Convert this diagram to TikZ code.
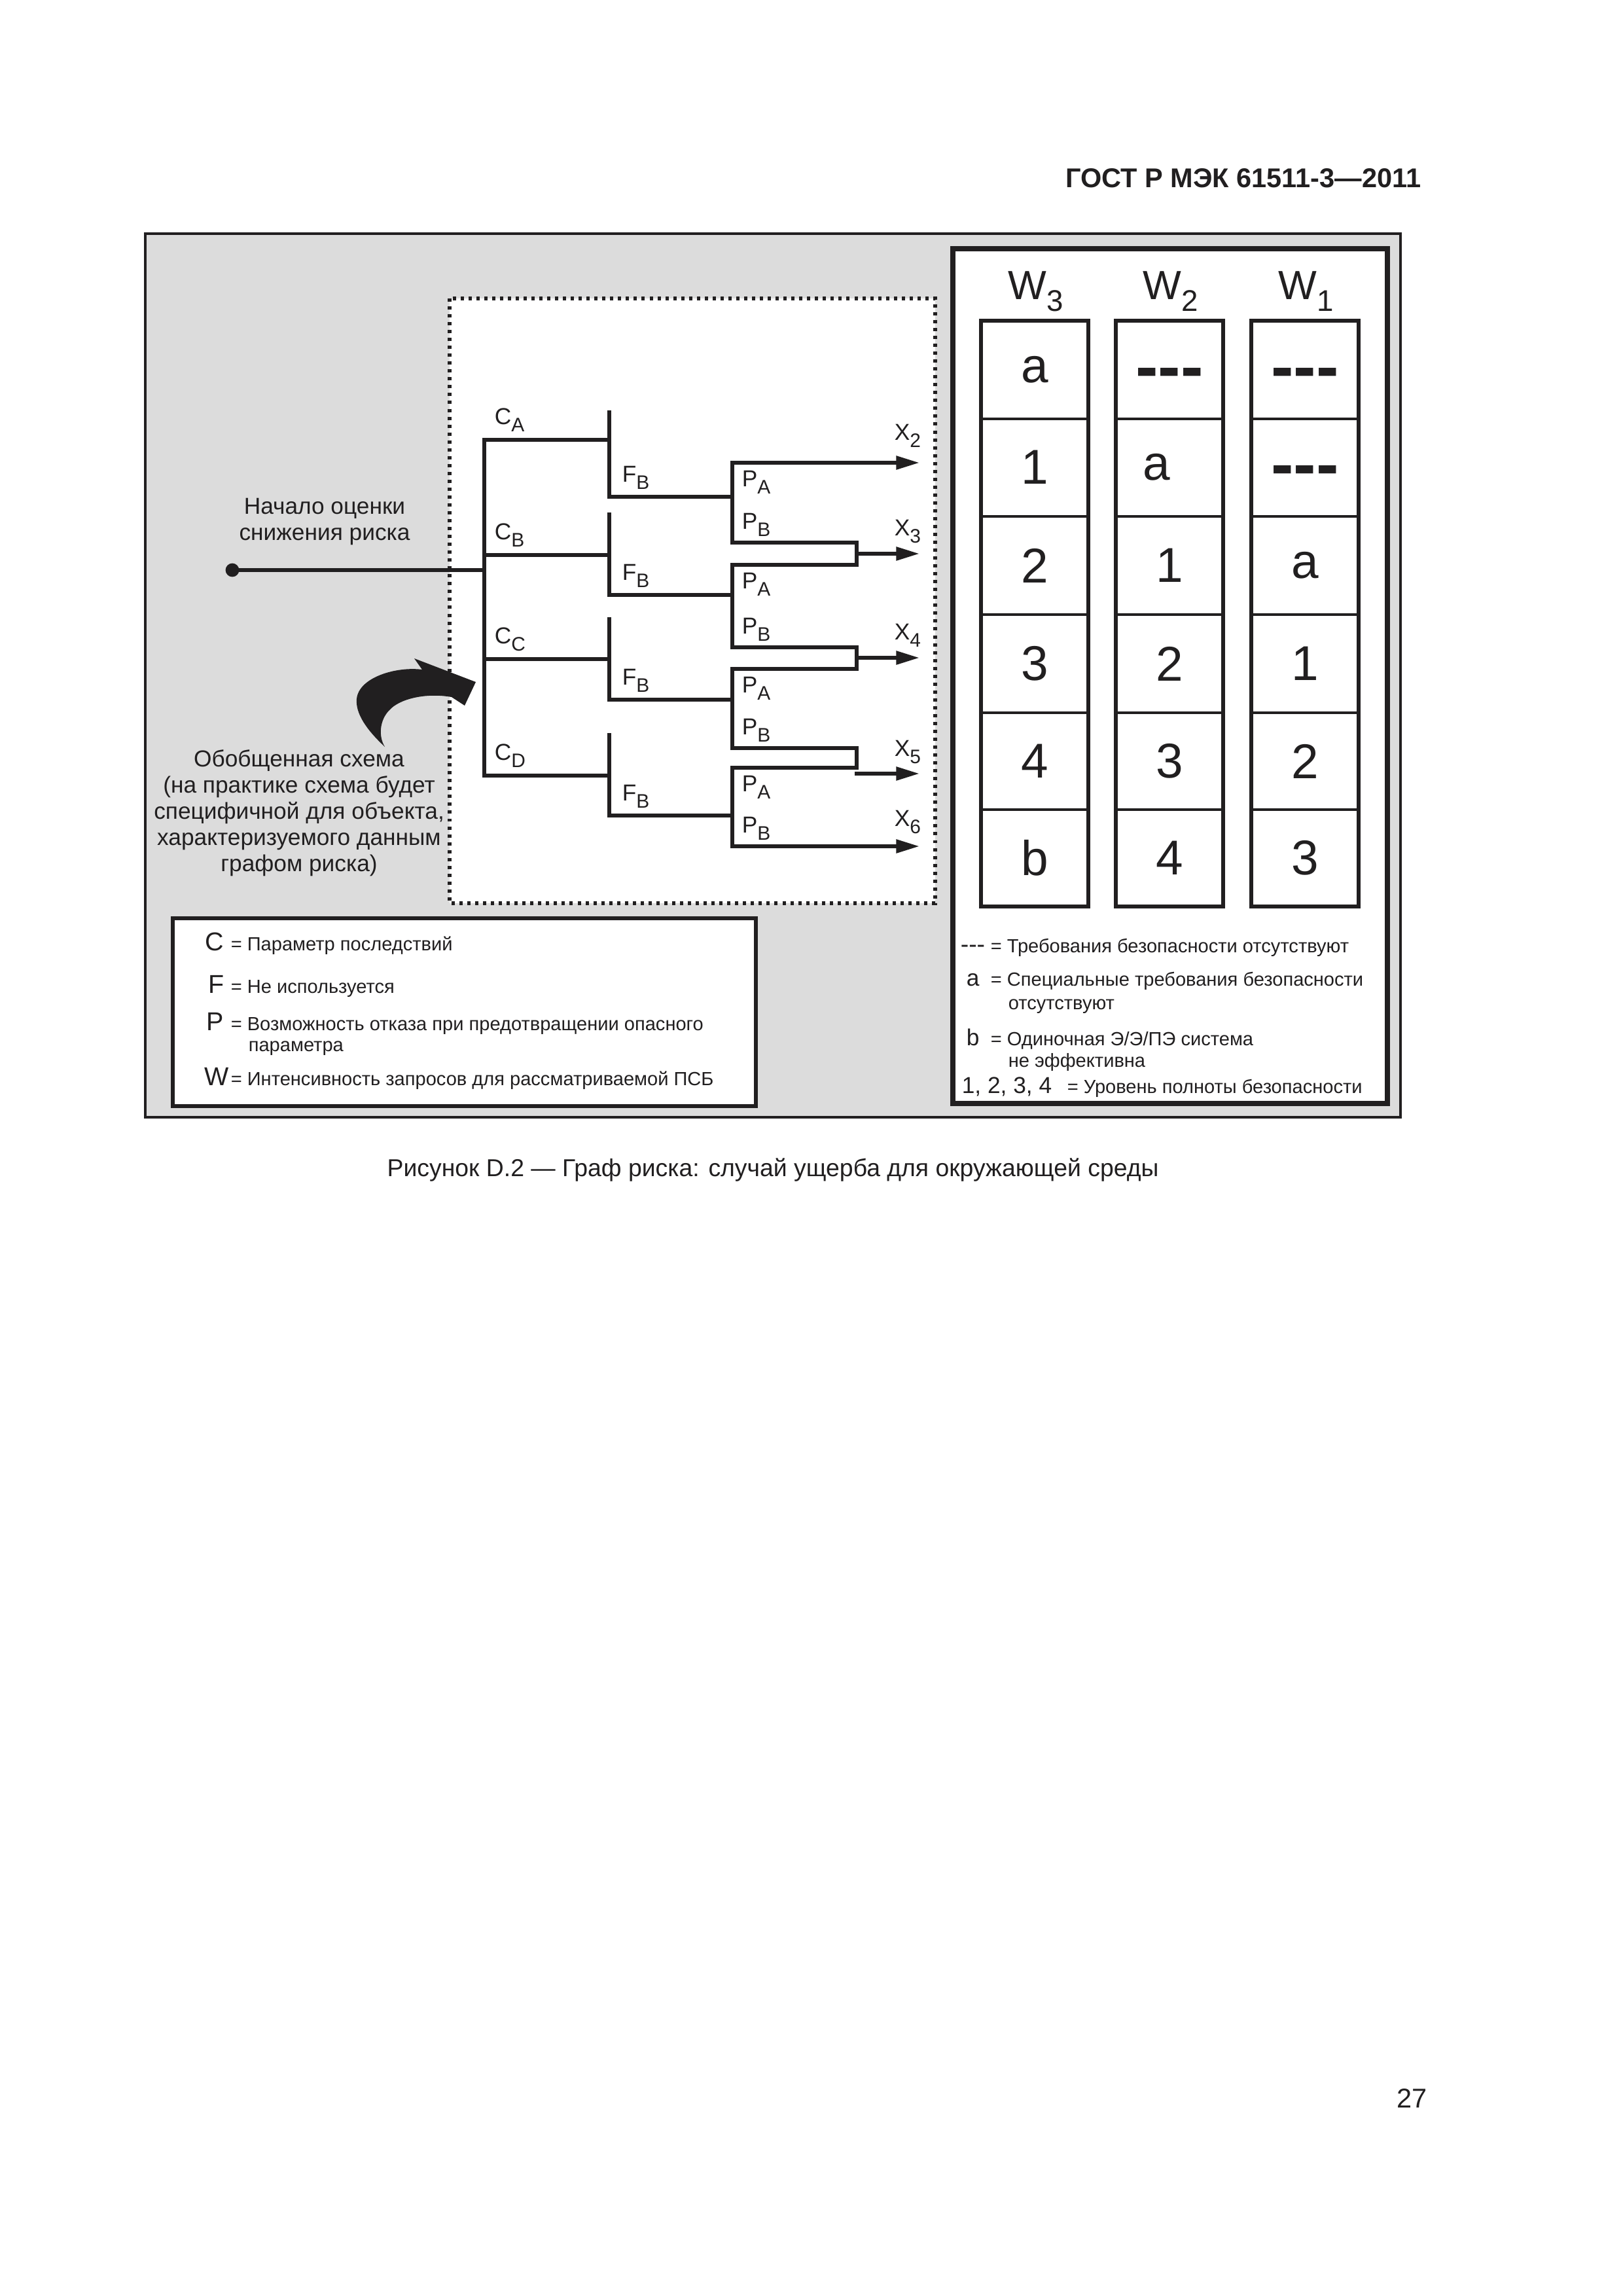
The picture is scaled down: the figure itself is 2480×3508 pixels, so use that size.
\documentclass[tikz,border=0pt]{standalone}
\usepackage{fontspec}
\setmainfont{Liberation Sans}
\newfontfamily\dashfont{Liberation Sans}
\usetikzlibrary{arrows.meta}

\definecolor{ink}{RGB}{33,31,32}
\definecolor{fieldgray}{RGB}{220,220,220}

\newcommand{\treelbl}[2]{#1\raisebox{-2.8pt}{\fontsize{7.2}{8}\selectfont #2}}
\newcommand{\wlabel}[1]{W\raisebox{-4.5pt}{\fontsize{11}{13}\selectfont #1}}
\newcommand{\nosil}{-\kern0pt-\kern0pt-}

\tikzset{
  frame/.style={draw=ink, line width=1pt, fill=fieldgray},
  dotbox/.style={draw=ink, line width=1.4pt, dash pattern=on 1.2pt off 1.7pt, fill=white},
  panel/.style={draw=ink, line width=1.8pt, fill=white},
  legendbox/.style={draw=ink, line width=1.6pt, fill=white},
  wcol/.style={draw=ink, line width=1.3pt},
  wcell/.style={draw=ink, line width=1.1pt},
  tree/.style={draw=ink, line width=1.44pt, line cap=rect},
  leadarrow/.style={tree, -{Triangle[length=8.6pt,width=4.8pt]}},
  treelabel/.style={anchor=base west, inner sep=0pt, text=ink, font=\fontsize{8.5}{10}\selectfont},
  note/.style={anchor=north, align=center, inner sep=0pt, text=ink, font=\fontsize{8.5}{9.65}\selectfont},
  whead/.style={anchor=base, inner sep=0pt, text=ink, font=\fontsize{15}{18}\selectfont},
  cellnum/.style={anchor=center, inner sep=0pt, text=ink, font=\fontsize{18}{21}\selectfont},
  celldash/.style={anchor=base, inner sep=0pt, text=ink, font=\dashfont\bfseries\fontsize{25}{30}\selectfont},
  legkey/.style={inner sep=0pt, text=ink, font=\fontsize{8.5}{10}\selectfont},
  parkey/.style={anchor=base east, inner sep=0pt, text=ink, font=\fontsize{9.5}{11}\selectfont},
  legtext/.style={anchor=base west, inner sep=0pt, text=ink, font=\fontsize{7}{8.4}\selectfont},
}

\begin{document}
\begin{tikzpicture}[x=0.084667mm, y=-0.084667mm]
\path[use as bounding box, fill=white] (0,0) rectangle (2480,3508);

% header and frames
\node[anchor=base east, inner sep=0pt, text=ink, font=\bfseries\fontsize{10}{12}\selectfont] (gost) at (2172,286) {ГОСТ Р МЭК 61511-3—2011};
\draw[frame] (222,357) rectangle (2140,1707);
\draw[dotbox] (687,456) rectangle (1429,1380);
\draw[panel] (1456,380) rectangle (2120,1686);
\draw[legendbox] (264,1403) rectangle (1155,1690);

% risk graph
\coordinate (start) at (355,871);
\coordinate (root) at (740,871);
\foreach \g/\yc/\yft/\yf/\ypt/\ypb in {A/672/630/759/707/829, B/848/786/909/863/989, C/1007/946/1069/1022/1143, D/1185/1123/1246/1173/1293}{
  \coordinate (c\g) at (740,\yc);
  \coordinate (f\g) at (931,\yc);
  \coordinate (ftop\g) at (931,\yft);
  \coordinate (fbot\g) at (931,\yf);
  \coordinate (p\g) at (1119,\yf);
  \coordinate (ptop\g) at (1119,\ypt);
  \coordinate (pbot\g) at (1119,\ypb);
  \draw[tree] (c\g) -- (f\g);
  \draw[tree] (ftop\g) -- (fbot\g) -- (p\g);
  \node[treelabel] (lc\g) at (755,\yc-24) {\treelbl{C}{\g}};
  \node[treelabel] (lf\g) at (950,\yf-23) {\treelbl{F}{B}};
  \node[treelabel] (lpa\g) at (1133,\ypt+36) {\treelbl{P}{A}};
  \node[treelabel] (lpb\g) at (1133,\ypb-21) {\treelbl{P}{B}};
}
\coordinate (jAB1) at (1309,829);
\coordinate (jAB2) at (1309,863);
\coordinate (jBC1) at (1309,989);
\coordinate (jBC2) at (1309,1022);
\coordinate (jCD1) at (1309,1143);
\coordinate (jCD2) at (1309,1173);
\coordinate (jAB) at (1309,846);
\coordinate (jBC) at (1309,1005);
\coordinate (jCD) at (1309,1182);
\coordinate (x2) at (1405,707);
\coordinate (x3) at (1405,846);
\coordinate (x4) at (1405,1005);
\coordinate (x5) at (1405,1182);
\coordinate (x6) at (1405,1293);

\draw[tree] (start) -- (root);
\draw[tree] (cA) -- (cD);
\fill[ink] (start) circle[radius=2.5pt];
\draw[tree] (ptopA) -- (pbotA) -- (jAB1) -- (jAB2) -- (ptopB) -- (pbotB) -- (jBC1) -- (jBC2)
  -- (ptopC) -- (pbotC) -- (jCD1) -- (jCD2) -- (ptopD) -- (pbotD);
\draw[leadarrow] (ptopA) -- (x2);
\draw[leadarrow] (jAB) -- (x3);
\draw[leadarrow] (jBC) -- (x4);
\draw[leadarrow] (jCD) -- (x5);
\draw[leadarrow] (pbotD) -- (x6);

\node[treelabel] (lx2) at (1366,672) {\treelbl{X}{2}};
\node[treelabel] (lx3) at (1366,818) {\treelbl{X}{3}};
\node[treelabel] (lx4) at (1366,977) {\treelbl{X}{4}};
\node[treelabel] (lx5) at (1366,1155) {\treelbl{X}{5}};
\node[treelabel] (lx6) at (1366,1262) {\treelbl{X}{6}};

% notes on the left
\node[note] (begin) at (496,760) {Начало оценки\\снижения риска};
\node[note] (generic) at (457,1145) {Обобщенная схема\\(на практике схема будет\\специфичной для объекта,\\характеризуемого данным\\графом риска)};
\fill[ink] (588,1141) .. controls (560,1115) and (543,1090) .. (545,1068)
  .. controls (548,1035) and (605,1018) .. (645,1023)
  -- (633,1006) -- (727,1042) -- (710,1078) -- (690,1065)
  .. controls (650,1058) and (610,1068) .. (595,1085)
  .. controls (580,1100) and (578,1125) .. (588,1141) -- cycle;

% W table
\node[whead] (w3) at (1583,457) {\wlabel{3}};
\node[whead] (w2) at (1789,457) {\wlabel{2}};
\node[whead] (w1) at (1996,457) {\wlabel{1}};
\foreach \xl/\xr in {1499/1663, 1705/1869, 1912/2076}{
  \draw[wcol] (\xl,490) rectangle (\xr,1385);
  \foreach \y in {640,789,939,1089,1237}
    \draw[wcell] (\xl,\y) -- (\xr,\y);
}
\node[cellnum] (w3r1) at (1581,565) {a};
\node[cellnum] (w3r2) at (1581,714) {1};
\node[cellnum] (w3r3) at (1581,864) {2};
\node[cellnum] (w3r4) at (1581,1014) {3};
\node[cellnum] (w3r5) at (1581,1163) {4};
\node[cellnum] (w3r6) at (1581,1311) {b};
\node[celldash] (w2r1) at (1787,595) {\nosil};
\node[cellnum] (w2r2) at (1767,714) {a};
\node[cellnum] (w2r3) at (1787,864) {1};
\node[cellnum] (w2r4) at (1787,1014) {2};
\node[cellnum] (w2r5) at (1787,1163) {3};
\node[cellnum] (w2r6) at (1787,1311) {4};
\node[celldash] (w1r1) at (1994,595) {\nosil};
\node[celldash] (w1r2) at (1994,744) {\nosil};
\node[cellnum] (w1r3) at (1994,864) {a};
\node[cellnum] (w1r4) at (1994,1014) {1};
\node[cellnum] (w1r5) at (1994,1163) {2};
\node[cellnum] (w1r6) at (1994,1311) {3};

% key to the W table
\node[legkey, anchor=base west, font=\dashfont\fontsize{9}{10}\selectfont] (kdash) at (1467,1455) {\nosil};
\node[legtext] (tdash) at (1513,1455) {= Требования безопасности отсутствуют};
\node[legkey, anchor=base west] (ka) at (1476,1506) {a};
\node[legtext] (ta) at (1513,1506) {= Специальные требования безопасности};
\node[legtext] (ta2) at (1540,1542) {отсутствуют};
\node[legkey, anchor=base west] (kb) at (1476,1597) {b};
\node[legtext] (tb) at (1513,1597) {= Одиночная Э/Э/ПЭ система};
\node[legtext] (tb2) at (1540,1630) {не эффективна};
\node[legkey, anchor=base west] (ksil) at (1469,1670) {1, 2, 3, 4};
\node[legtext] (tsil) at (1630,1670) {= Уровень полноты безопасности};

% key to the parameters
\node[parkey] (kc) at (343,1452) {C};
\node[legtext] (tc) at (352,1452) {= Параметр последствий};
\node[parkey] (kf) at (343,1517) {F};
\node[legtext] (tf) at (352,1517) {= Не используется};
\node[parkey] (kp) at (343,1574) {P};
\node[legtext] (tp) at (352,1574) {= Возможность отказа при предотвращении опасного};
\node[legtext] (tp2) at (379,1606) {параметра};
\node[parkey] (kw) at (351,1658) {W};
\node[legtext] (tw) at (352,1658) {= Интенсивность запросов для рассматриваемой ПСБ};

% caption and page number
\node[anchor=base, inner sep=0pt, text=ink, font=\fontsize{9}{11}\selectfont] (caption) at (1181,1797) {Рисунок D.2 — Граф риска: случай ущерба для окружающей среды};
\node[anchor=base east, inner sep=0pt, text=ink, font=\fontsize{10}{12}\selectfont] (pageno) at (2181,3220) {27};
\end{tikzpicture}
\end{document}
